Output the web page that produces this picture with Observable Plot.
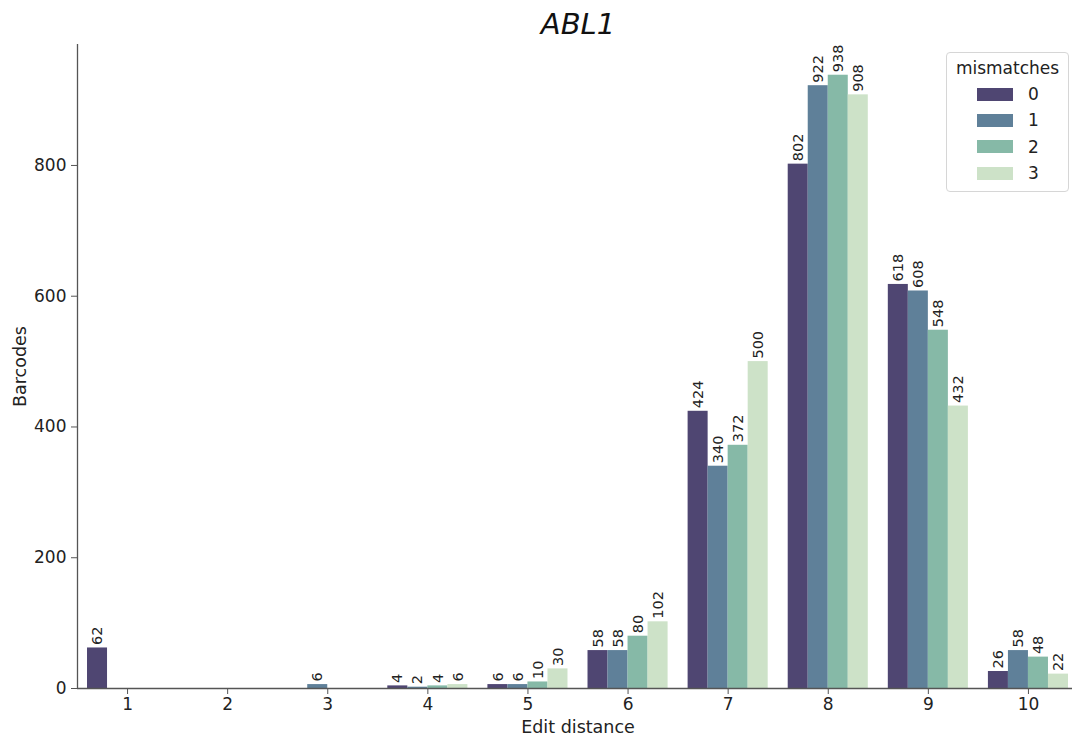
<!DOCTYPE html>
<html>
<head>
<meta charset="utf-8">
<script src="https://cdn.jsdelivr.net/npm/d3@7"></script>
<script src="https://cdn.jsdelivr.net/npm/@observablehq/plot@0.6"></script>
<style>
  html, body { margin: 0; padding: 0; background: #fff; overflow: hidden; }
  #wrap { position: relative; width: 1072px; height: 740px; font-family: "DejaVu Sans", sans-serif; }
  #wrap svg { overflow: hidden; }
  #legend { position: absolute; left: 946px; top: 52px; width: 121px; height: 136px;
    border: 1px solid #d6d6d6; border-radius: 4px; background: rgba(255,255,255,0.85);
    box-sizing: content-box; padding-top: 2px; color: #222; font-size: 17px; }
  #legend .ttl { height: 26px; line-height: 26px; text-align: center; }
  #legend .row { height: 26.3px; display: flex; align-items: center; padding-left: 30px; }
  #legend .sw { width: 36px; height: 13px; margin-right: 15px; }
</style>
</head>
<body>
<div id="wrap"></div>
<script>
const editDistances = [1, 2, 3, 4, 5, 6, 7, 8, 9, 10];
const mismatches = [0, 1, 2, 3];
const counts0 = [62, 0, 0, 4, 6, 58, 424, 802, 618, 26];
const counts1 = [0, 0, 6, 2, 6, 58, 340, 922, 608, 58];
const counts2 = [0, 0, 0, 4, 10, 80, 372, 938, 548, 48];
const counts3 = [0, 0, 0, 6, 30, 102, 500, 908, 432, 22];
const yTicks = [0, 200, 400, 600, 800];
const colors = ["#4f4672", "#5f8099", "#86b9a7", "#cde2c8"];
const title = "ABL1";
const xLabel = "Edit distance";
const yLabel = "Barcodes";
const legendTitle = "mismatches";

const series = [counts0, counts1, counts2, counts3];
const groupWidth = 0.8;
const barW = groupWidth / mismatches.length;
const rows = [];
mismatches.forEach((m, mi) => {
  editDistances.forEach((d, di) => {
    const x1 = d - groupWidth / 2 + mi * barW;
    rows.push({d, m: String(m), value: series[mi][di], x1, x2: x1 + barW, xc: x1 + barW / 2});
  });
});

const chart = Plot.plot({
  width: 1072,
  height: 740,
  marginLeft: 77,
  marginRight: -6,
  marginTop: 44,
  marginBottom: 52,
  style: {fontFamily: "DejaVu Sans, sans-serif", fontSize: "17px", color: "#222", background: "#fff"},
  x: {domain: [0.5, 10.5], axis: null},
  y: {domain: [0, 985], axis: null},
  color: {domain: mismatches.map(String), range: colors},
  marks: [
    Plot.rect(rows, {x1: "x1", x2: "x2", y1: 0, y2: "value", fill: "m"}),
    Plot.text(rows.filter(r => r.value > 0), {
      x: "xc", y: "value", text: r => String(r.value), rotate: -90,
      textAnchor: "start", lineAnchor: "middle", dy: -3, fontSize: 14.5, fill: "#222"
    }),
    Plot.axisX({ticks: editDistances, tickFormat: d => String(d), tickSize: 6, tickPadding: 3, fontSize: 17, stroke: "#555", fill: "#222"}),
    Plot.axisY({ticks: yTicks, tickFormat: d => String(d), tickSize: 6, tickPadding: 5, fontSize: 17, stroke: "#555", fill: "#222", label: null}),
    Plot.ruleY([0], {stroke: "#555", strokeWidth: 1.3}),
    Plot.ruleX([0.5], {stroke: "#555", strokeWidth: 1.3}),
    Plot.text([title], {frameAnchor: "top", dy: -20, lineAnchor: "middle", fontSize: 29, fontStyle: "italic", fill: "#111"}),
    Plot.text([xLabel], {frameAnchor: "bottom", dy: 39, lineAnchor: "middle", fontSize: 17.5, fill: "#222"}),
    Plot.text([yLabel], {frameAnchor: "left", dx: -57, rotate: -90, lineAnchor: "middle", textAnchor: "middle", fontSize: 17.5, fill: "#222"})
  ]
});

const wrap = document.getElementById("wrap");
wrap.appendChild(chart);

const legend = document.createElement("div");
legend.id = "legend";
const t = document.createElement("div");
t.className = "ttl";
t.textContent = legendTitle;
legend.appendChild(t);
mismatches.forEach((m, i) => {
  const row = document.createElement("div");
  row.className = "row";
  const sw = document.createElement("div");
  sw.className = "sw";
  sw.style.background = colors[i];
  const lab = document.createElement("span");
  lab.textContent = String(m);
  row.appendChild(sw);
  row.appendChild(lab);
  legend.appendChild(row);
});
wrap.appendChild(legend);
</script>
</body>
</html>
